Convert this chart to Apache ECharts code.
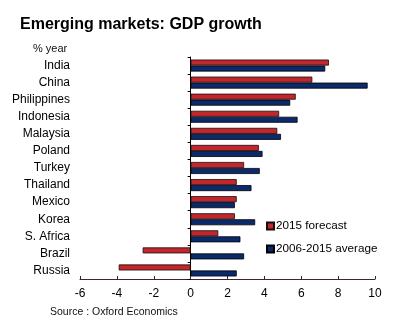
<!DOCTYPE html>
<html>
<head>
<meta charset="utf-8">
<script src="https://cdn.jsdelivr.net/npm/echarts@6/dist/echarts.min.js"></script>
<style>
  html, body { margin: 0; padding: 0; background: #fff; }
  #chart { width: 413px; height: 326px; }
</style>
</head>
<body>
<div id="chart"></div>
<script>
// GDP growth, % year
const countries = ['India', 'China', 'Philippines', 'Indonesia', 'Malaysia', 'Poland', 'Turkey',
  'Thailand', 'Mexico', 'Korea', 'S. Africa', 'Brazil', 'Russia'];
const forecast2015 = [7.5, 6.6, 5.7, 4.8, 4.7, 3.7, 2.9, 2.5, 2.5, 2.4, 1.5, -2.6, -3.9];
const average0615 = [7.3, 9.6, 5.4, 5.8, 4.9, 3.9, 3.75, 3.3, 2.4, 3.5, 2.7, 2.9, 2.5];
const xTicks = [-6, -4, -2, 0, 2, 4, 6, 8, 10];

const FONT = '"Liberation Sans", Arial, sans-serif';
const RED = '#C1272D';
const BLUE = '#0B2A6A';

const chart = echarts.init(document.getElementById('chart'), null, { renderer: 'canvas' });

chart.setOption({
  backgroundColor: '#fff',
  animation: false,
  textStyle: { fontFamily: FONT },
  title: [
    { text: 'Emerging markets: GDP growth', left: 15, top: 12,
      textStyle: { fontFamily: FONT, fontSize: 16, fontWeight: 'bold', color: '#000' } },
    { text: '% year', left: 28, top: 38,
      textStyle: { fontFamily: FONT, fontSize: 11, fontWeight: 'normal', color: '#111' } },
    { text: 'Source : Oxford Economics', left: 45, top: 302,
      textStyle: { fontFamily: FONT, fontSize: 10.5, fontWeight: 'normal', color: '#111' } }
  ],
  legend: {
    orient: 'vertical', left: 261, top: 215, itemGap: 11,
    itemWidth: 7, itemHeight: 7, icon: 'rect',
    textStyle: { fontFamily: FONT, fontSize: 11.7, color: '#000', padding: [0, 0, 0, -3] },
    data: ['2015 forecast', '2006-2015 average']
  },
  grid: { left: 80, right: 38, top: 57, bottom: 47, containLabel: false },
  xAxis: {
    type: 'value', min: xTicks[0], max: xTicks[xTicks.length - 1], interval: 2,
    splitLine: { show: false },
    axisLine: { show: true, onZero: false, lineStyle: { color: '#3a2436', width: 1 } },
    axisTick: { show: true, inside: true, length: 3, lineStyle: { color: '#3a2436' } },
    axisLabel: { fontFamily: FONT, fontSize: 12, color: '#000', margin: 9,
      formatter: v => String(v) }
  },
  yAxis: [
    {
      type: 'category', data: countries, inverse: true,
      axisLine: { show: true, onZero: true, lineStyle: { color: '#000', width: 1 } },
      axisTick: { show: true, length: 3, lineStyle: { color: '#000' } },
      axisLabel: { show: false }
    },
    {
      type: 'category', data: countries, inverse: true, position: 'left',
      axisLine: { show: false }, axisTick: { show: false },
      axisLabel: { fontFamily: FONT, fontSize: 12, color: '#000', margin: 10 }
    }
  ],
  series: [
    {
      name: '2015 forecast', type: 'bar', data: forecast2015, barWidth: 6, barGap: '0%',
      itemStyle: { color: RED, borderColor: '#1a0a0a', borderWidth: 0.8 }
    },
    {
      name: '2006-2015 average', type: 'bar', data: average0615, barWidth: 6, barGap: '0%',
      itemStyle: { color: BLUE, borderColor: '#000', borderWidth: 0.8 }
    }
  ]
});
</script>
</body>
</html>
